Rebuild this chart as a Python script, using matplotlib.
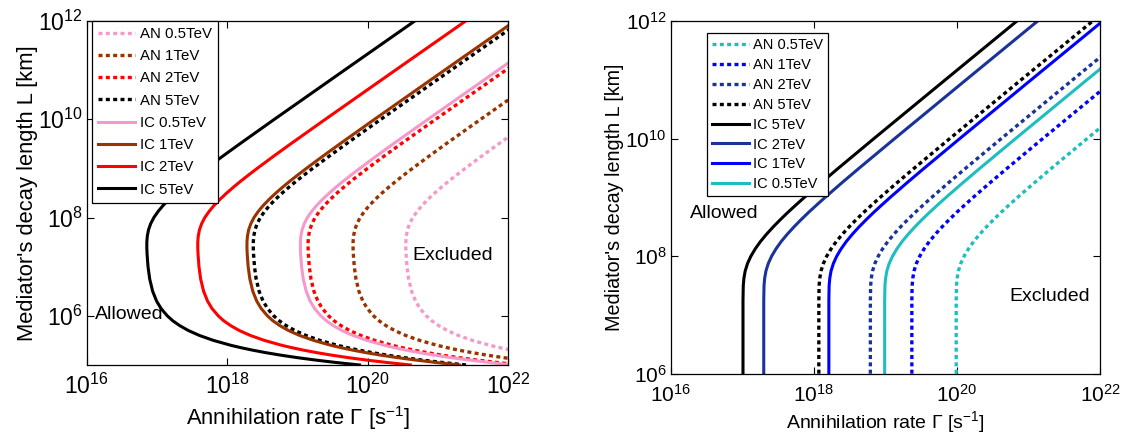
import numpy as np
import matplotlib
matplotlib.use('Agg')
import matplotlib.pyplot as plt

plt.rcParams['font.family'] = ['Liberation Sans', 'DejaVu Sans']
plt.rcParams['mathtext.fontset'] = 'custom'
plt.rcParams['mathtext.rm'] = 'Liberation Sans'
plt.rcParams['mathtext.it'] = 'Liberation Sans:italic'

# traced contour shape: log10(L/km) vs. log10(Gamma) offset from the leftmost point
# left panel (mediator decays between Sun surface and Earth)
logL_left = [5.00, 5.05, 5.10, 5.15, 5.20, 5.25, 5.30, 5.35, 5.40, 5.50, 5.60, 5.70,
             5.80, 5.90, 6.00, 6.15, 6.30, 6.50, 6.75, 7.00, 7.25, 7.375, 7.50, 7.625,
             7.75, 7.875, 8.00, 8.125, 8.25, 8.375, 8.50, 8.625, 8.75, 8.875, 9.00,
             9.25, 9.50, 10.0, 11.0, 12.0]
shape_left = [3.027, 2.696, 2.402, 2.139, 1.905, 1.697, 1.511, 1.345, 1.197, 0.948, 0.750,
              0.593, 0.469, 0.369, 0.291, 0.202, 0.139, 0.083, 0.041, 0.017, 0.004, 0.000,
              0.000, 0.007, 0.024, 0.055, 0.100, 0.161, 0.234, 0.319, 0.412, 0.513, 0.619,
              0.731, 0.845, 1.081, 1.323, 1.816, 2.813, 3.813]
# right panel
logL_right = [6.00, 7.00, 7.25, 7.50, 7.625, 7.75, 7.875, 8.00, 8.125, 8.25, 8.375, 8.50,
              8.625, 8.75, 8.875, 9.00, 9.25, 9.50, 10.0, 11.0, 12.0]
shape_right = [0.000, 0.000, 0.000, 0.004, 0.013, 0.031, 0.063, 0.110, 0.171, 0.244, 0.329,
               0.423, 0.524, 0.630, 0.742, 0.856, 1.092, 1.334, 1.827, 2.824, 3.824]

# leftmost log10(Gamma) of every curve
labels_left = ['AN 0.5TeV', 'AN 1TeV', 'AN 2TeV', 'AN 5TeV',
               'IC 0.5TeV', 'IC 1TeV', 'IC 2TeV', 'IC 5TeV']
nose_left = [20.54, 19.79, 19.15, 18.37, 19.04, 18.28, 17.58, 16.855]
colors_left = ['#F59AC8', '#993300', '#FF0000', '#000000',
               '#F59AC8', '#993300', '#FF0000', '#000000']

labels_right = ['AN 0.5TeV', 'AN 1TeV', 'AN 2TeV', 'AN 5TeV',
                'IC 5TeV', 'IC 2TeV', 'IC 1TeV', 'IC 0.5TeV']
nose_right = [19.99, 19.37, 18.79, 18.07, 17.01, 17.30, 18.21, 18.99]
colors_right = ['#1EBEBE', '#0000FF', '#1A3399', '#000000',
                '#000000', '#1A3399', '#0000FF', '#1EBEBE']

dotted = (0, (1.2, 1.0))

fig = plt.figure(figsize=(11.25, 4.37), dpi=100)
ax1 = fig.add_axes([0.0771, 0.1648, 0.3748, 0.7872])
ax2 = fig.add_axes([0.5962, 0.1449, 0.3816, 0.8064])


def draw(ax, logL, shape, labels, noses, colors):
    L = 10**np.array(logL)
    for lab, n, c in zip(labels, noses, colors):
        G = 10**(n + np.array(shape))
        if lab.startswith('AN'):
            ax.plot(G, L, linestyle=dotted, color=c, lw=2.4, label=lab)
        else:
            ax.plot(G, L, linestyle='-', color=c, lw=2.2, label=lab)
    ax.set_xscale('log')
    ax.set_yscale('log')
    ax.set_xlim(1e16, 1e22)
    ax.set_xticks([1e16, 1e18, 1e20, 1e22])
    ax.set_yticks([1e6, 1e8, 1e10, 1e12])
    ax.minorticks_off()
    ax.tick_params(direction='in', top=True, right=True, length=5, width=0.8)
    for s in ax.spines.values():
        s.set_linewidth(0.9)


draw(ax1, logL_left, shape_left, labels_left, nose_left, colors_left)
ax1.set_ylim(1e5, 1e12)
ax1.tick_params(labelsize=16.5)
ax1.tick_params(axis='x', pad=6)
ax1.tick_params(axis='y', pad=3)
ax1.set_xlabel(r'Annihilation rate Γ [s$^{-1}$]', fontsize=15.8, labelpad=4)
ax1.set_ylabel("Mediator's decay length L [km]", fontsize=15.8, labelpad=0)
ax1.text(10**16.11, 10**6.02, 'Allowed', fontsize=14, va='center', ha='left')
ax1.text(10**20.64, 10**7.22, 'Excluded', fontsize=14, va='center', ha='left')
leg1 = ax1.legend(loc='upper left', bbox_to_anchor=(0.013, 1.0), fontsize=10.8,
                  handlelength=2.45, handletextpad=0.33, labelspacing=0.55,
                  borderpad=0.4, borderaxespad=0, fancybox=False, framealpha=1)
leg1.get_frame().set_edgecolor('black')
leg1.get_frame().set_linewidth(0.9)

draw(ax2, logL_right, shape_right, labels_right, nose_right, colors_right)
ax2.set_ylim(1e6, 1e12)
ax2.tick_params(labelsize=15)
ax2.tick_params(axis='x', pad=7)
ax2.tick_params(axis='y', pad=3)
ax2.set_xlabel(r'Annihilation rate Γ [s$^{-1}$]', fontsize=14, labelpad=3)
ax2.set_ylabel("Mediator's decay length L [km]", fontsize=14.2, labelpad=1)
ax2.text(10**16.27, 10**8.72, 'Allowed', fontsize=14, va='center', ha='left')
ax2.text(10**20.73, 10**7.32, 'Excluded', fontsize=14, va='center', ha='left')
leg2 = ax2.legend(loc='upper left', bbox_to_anchor=(0.085, 0.966), fontsize=10.5,
                  handlelength=2.5, handletextpad=0.3, labelspacing=0.4,
                  borderpad=0.35, borderaxespad=0, fancybox=False, framealpha=1)
leg2.get_frame().set_edgecolor('black')
leg2.get_frame().set_linewidth(0.9)

plt.savefig('out.png', dpi=100)
